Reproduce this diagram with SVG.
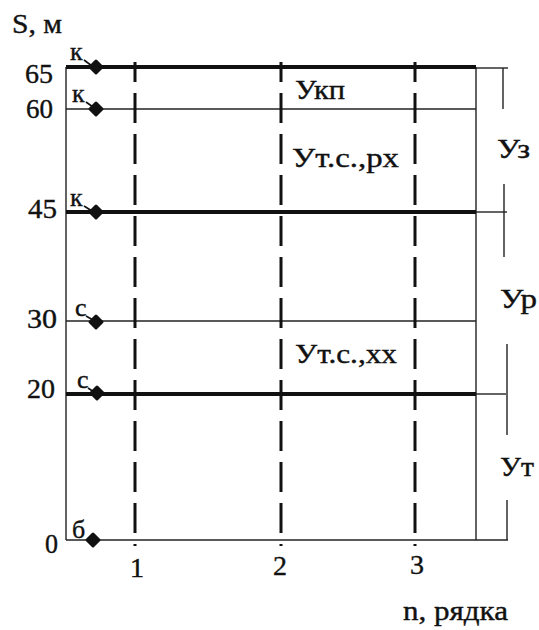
<svg xmlns="http://www.w3.org/2000/svg" width="539" height="630" viewBox="0 0 539 630" font-family="'Times New Roman', 'Liberation Serif', 'DejaVu Serif', serif">
<style>
  text { font-family: 'Times New Roman', 'Liberation Serif', 'DejaVu Serif', serif; fill: #111; stroke: #111; stroke-width: 0.4; font-size: 28px; }
  .s { font-size: 26px; }
  .thin { stroke: #222; stroke-width: 1.4; fill: none; }
  .thick { stroke: #111; stroke-width: 3.8; fill: none; }
  .dash { stroke: #111; stroke-width: 3; fill: none; stroke-dasharray: 30 11; stroke-dashoffset: 10; }
  .dot { fill: #111; stroke: #111; stroke-width: 3; stroke-linejoin: round; }
  .lead { stroke: #111; stroke-width: 1.6; }
</style>
<defs>
  <path id="dia" d="M -6 0 L 0 -6 L 6 0 L 0 6 Z"/>
</defs>
<rect width="539" height="630" fill="#fff"/>

<g id="connectors">
  <line class="thin" x1="66" y1="67" x2="66" y2="540"/>
  <line class="thin" x1="476" y1="67" x2="476" y2="540"/>
  <line class="thick" x1="66" y1="67" x2="476" y2="67"/>
  <line class="thin" x1="476" y1="68" x2="508" y2="68"/>
  <line class="thin" x1="66" y1="109" x2="476" y2="109"/>
  <line class="thick" x1="66" y1="212" x2="476" y2="212"/>
  <line class="thin" x1="476" y1="212" x2="507" y2="212"/>
  <line class="thin" x1="66" y1="321" x2="476" y2="321"/>
  <line class="thick" x1="66" y1="394" x2="476" y2="394"/>
  <line class="thin" x1="476" y1="394" x2="506" y2="394"/>
  <line class="thin" x1="66" y1="540" x2="508" y2="540"/>
  <line class="dash" x1="135" y1="62" x2="135" y2="546"/>
  <line class="dash" x1="281" y1="62" x2="281" y2="546"/>
  <line class="dash" x1="415" y1="62" x2="415" y2="546"/>
  <line class="thin" x1="503" y1="68" x2="503" y2="109"/>
  <line class="thin" x1="504" y1="184" x2="504" y2="257"/>
  <line class="thin" x1="507" y1="344" x2="507" y2="435"/>
  <line class="thin" x1="507" y1="500" x2="507" y2="540"/>
</g>

<g id="axis-labels">
  <text x="12" y="33" textLength="50" lengthAdjust="spacingAndGlyphs">S, м</text>
  <text x="403" y="620" textLength="105" lengthAdjust="spacingAndGlyphs">n, рядка</text>
</g>

<g id="s-ticks">
  <text x="25" y="83" textLength="28" lengthAdjust="spacingAndGlyphs">65</text>
  <text x="26" y="118" textLength="27" lengthAdjust="spacingAndGlyphs">60</text>
  <text x="28" y="218" textLength="29" lengthAdjust="spacingAndGlyphs">45</text>
  <text x="27" y="328" textLength="30" lengthAdjust="spacingAndGlyphs">30</text>
  <text x="27" y="398" textLength="28" lengthAdjust="spacingAndGlyphs">20</text>
  <text x="45" y="553" textLength="13" lengthAdjust="spacingAndGlyphs">0</text>
</g>

<g id="n-ticks">
  <text x="130" y="577">1</text>
  <text x="273" y="575">2</text>
  <text x="410" y="574">3</text>
</g>

<g id="point-k65">
  <text class="s" x="70" y="60">к</text>
  <line class="lead" x1="84" y1="60" x2="92" y2="66"/>
  <use href="#dia" class="dot" x="96" y="67"/>
</g>
<g id="point-k60">
  <text class="s" x="72" y="102">к</text>
  <line class="lead" x1="86" y1="102" x2="93" y2="107"/>
  <use href="#dia" class="dot" x="96" y="109"/>
</g>
<g id="point-k45">
  <text class="s" x="70" y="206">к</text>
  <line class="lead" x1="84" y1="206" x2="92" y2="211"/>
  <use href="#dia" class="dot" x="96" y="212"/>
</g>
<g id="point-c30">
  <text class="s" x="75" y="316">с</text>
  <line class="lead" x1="86" y1="316" x2="93" y2="320"/>
  <use href="#dia" class="dot" x="96" y="322"/>
</g>
<g id="point-c20">
  <text class="s" x="77" y="388">с</text>
  <line class="lead" x1="88" y1="388" x2="94" y2="392"/>
  <use href="#dia" class="dot" x="97" y="393"/>
</g>
<g id="point-b0">
  <text class="s" x="72" y="538">б</text>
  <use href="#dia" class="dot" x="93" y="540"/>
</g>

<g id="zone-labels">
  <text x="295" y="99" textLength="50" lengthAdjust="spacingAndGlyphs">Укп</text>
  <text x="292" y="167" textLength="107" lengthAdjust="spacingAndGlyphs">Ут.с.,рх</text>
  <text x="295" y="363" textLength="102" lengthAdjust="spacingAndGlyphs">Ут.с.,хх</text>
</g>

<g id="bracket-labels">
  <text x="497" y="158" textLength="33" lengthAdjust="spacingAndGlyphs">Уз</text>
  <text x="500" y="308" textLength="37" lengthAdjust="spacingAndGlyphs">Ур</text>
  <text x="500" y="476" textLength="34" lengthAdjust="spacingAndGlyphs">Ут</text>
</g>
</svg>
